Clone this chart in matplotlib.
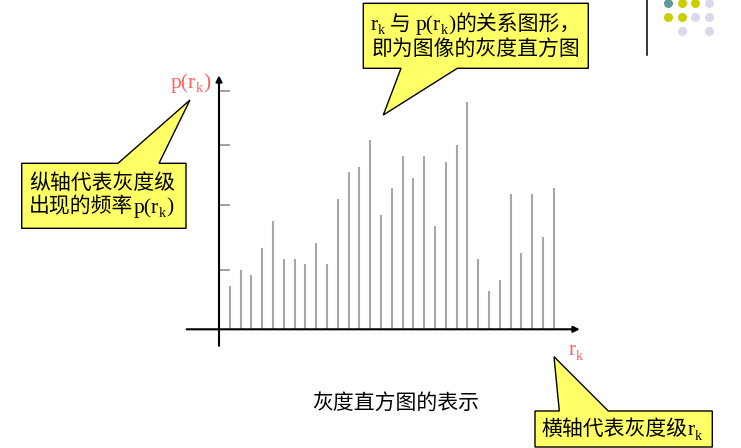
import numpy as np
import matplotlib
matplotlib.use('Agg')
import matplotlib.pyplot as plt
from matplotlib.patches import Polygon

# gray levels r_k and their frequencies p(r_k)
levels = np.arange(1, 32)
freq = [43, 59, 54, 81, 108, 70, 70, 65, 86, 65, 130, 157, 162, 189, 114,
        141, 173, 151, 173, 103, 167, 184, 227, 70, 38, 49, 135, 76, 135, 92, 141]
y_ticks = [59, 124, 184, 238]

caption = '灰度直方图的表示'
note_left = ['纵轴代表灰度级', '出现的频率']
note_top = ['的关系图形，', '即为图像的灰度直方图']
note_right = '横轴代表灰度级'

CJK = 'Noto Sans CJK SC'
LAT = 'Liberation Serif'
RED = '#ff6060'
YELLOW = '#ffff66'

W, H = 741, 448
fig = plt.figure(figsize=(W / 100, H / 100), dpi=100)

# histogram axes: x in gray-level steps, y in pixel units above the baseline
ax = fig.add_axes([0, 0, 1, 1])
step = 10.8
x0_px, y0_px = 219, 329.3
ax.set_xlim(-x0_px / step, (W - x0_px) / step)
ax.set_ylim(y0_px - H, y0_px)
ax.axis('off')

ax.vlines(levels, 0, freq, color='#a6a6a6', lw=1.5)
ax.hlines(y_ticks, 0, 1.0, color='#999999', lw=1.3)
arrow = dict(arrowstyle='-|>', lw=1.5, color='black', mutation_scale=9,
             shrinkA=0, shrinkB=0)
ax.annotate('', xy=(33.4, 0), xytext=(-3.0, 0), arrowprops=arrow)
ax.annotate('', xy=(0, 254), xytext=(0, -16.5), arrowprops=arrow)

# overlay in pixel coordinates for callouts and labels
ov = fig.add_axes([0, 0, 1, 1])
ov.set_xlim(0, W)
ov.set_ylim(H, 0)
ov.axis('off')
ov.patch.set_alpha(0)
renderer = fig.canvas.get_renderer()


def write(x, y, parts, color='black', size=15):
    for s, kind in parts:
        if kind == 'gap':
            x += s
            continue
        if kind == 'cjk':
            t = ov.text(x, y, s, fontsize=size, family=CJK, color=color, va='baseline')
        elif kind == 'lat':
            t = ov.text(x, y, s, fontsize=size + 0.5, family=LAT, color=color, va='baseline')
        else:
            t = ov.text(x, y + 4.5, s, fontsize=size * 0.68, family=LAT, color=color, va='baseline')
        x += t.get_window_extent(renderer).width


def callout(x0, x1, y0, y1, b0, b1, tip, top=True):
    if top:
        pts = [(x0, y0), (b0, y0), tip, (b1, y0), (x1, y0), (x1, y1), (x0, y1)]
    else:
        pts = [(x0, y0), (x1, y0), (x1, y1), (b1, y1), tip, (b0, y1), (x0, y1)]
    ov.add_patch(Polygon(pts, closed=True, facecolor=YELLOW, edgecolor='black', lw=1.0))


callout(21.7, 186, 163.3, 228.3, 118, 159, (190, 100))
callout(363.3, 588.3, 3.3, 68.3, 401, 457.3, (383.3, 115), top=False)
callout(535, 712.3, 411, 447, 559.3, 608.3, (554, 356.7))

write(29.3, 189, [(note_left[0], 'cjk')])
write(29.3, 212.5, [(note_left[1], 'cjk'), ('p(r', 'lat'), ('k', 'sub'), (')', 'lat')])
write(370.7, 30, [('r', 'lat'), ('k', 'sub'), (5, 'gap'), ('与', 'cjk'), (5, 'gap'),
                  ('p(r', 'lat'), ('k', 'sub'), (')', 'lat'), (note_top[0], 'cjk')])
write(371.7, 54.5, [(note_top[1], 'cjk')])
write(541.7, 435, [(note_right, 'cjk'), ('r', 'lat'), ('k', 'sub')])
write(312.3, 409, [(caption, 'cjk')])

# axis labels
write(170.7, 88, [('p(r', 'lat'), ('k', 'sub'), (')', 'lat')], color=RED)
write(568.7, 355, [('r', 'lat'), ('k', 'sub')], color=RED)

# slide decoration top right
ov.plot([647.3, 647.3], [0, 55], color='black', lw=1.1)
dot_x = [667.7, 681.7, 695, 708.7]
dot_rows = [(3.3, ['#5f9a9a', '#cccc00', '#cccc00', '#d9d9ee']),
            (16.7, ['#cccc00', '#cccc00', '#d9d9ee', '#d9d9ee']),
            (31, [None, '#d9d9ee', None, '#d9d9ee'])]
for yy, cols in dot_rows:
    for xx, c in zip(dot_x, cols):
        if c:
            ov.scatter(xx, yy, s=42, color=c, lw=0)

fig.savefig('out.png', dpi=100)
